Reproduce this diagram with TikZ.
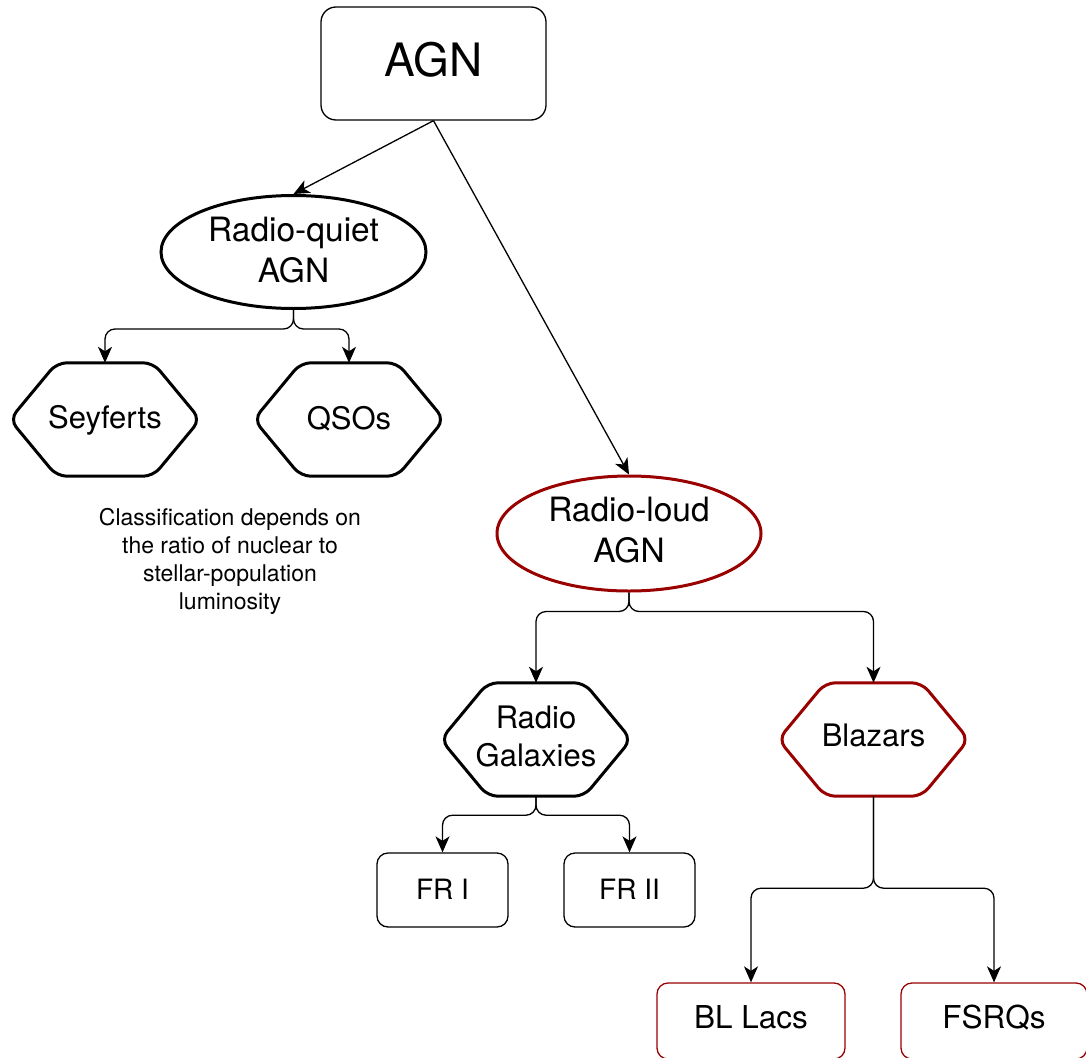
\documentclass[tikz,border=0pt]{standalone}
\usepackage{fontspec}
\setmainfont{TeX Gyre Heros}
\usetikzlibrary{shapes.geometric,arrows.meta}
\definecolor{dred}{RGB}{153,0,0}
\newcommand\hexdraw[2]{%
  \draw[#2, line width=3pt, rounded corners=10pt]
    (#1.north) -- ([xshift=-47pt]#1.north east) -- (#1.east)
    -- ([xshift=-47pt]#1.south east) -- ([xshift=47pt]#1.south west)
    -- (#1.west) -- ([xshift=47pt]#1.north west) -- cycle;}
\tikzset{
  txt/.style={align=center, inner sep=0pt, text=black},
  thinbox/.style={draw, line width=1.3pt, rounded corners=11pt, inner sep=0pt},
  ellnode/.style={ellipse, draw, line width=3pt, inner sep=0pt, minimum width=265pt, minimum height=113pt},
  hexnode/.style={inner sep=0pt, minimum width=190pt, minimum height=113pt},
  elltxt/.style={txt, font=\fontsize{33.5}{40.5}\selectfont},
  hextxt/.style={txt, font=\fontsize{31}{37.5}\selectfont},
  conn/.style={line width=1.3pt, rounded corners=10pt, -{Stealth[length=16pt,width=14pt,inset=4.5pt]}}
}
\begin{document}
\begin{tikzpicture}[x=1pt,y=-1pt]
\useasboundingbox (0,0) rectangle (1086,1057);
% top
\node[thinbox, rounded corners=15pt, minimum width=225pt, minimum height=113pt,
  label={[txt, font=\fontsize{46}{55}\selectfont, yshift=3.5pt]center:AGN}] (agn) at (433.5,63.5) {};
% ellipses
\node[ellnode, label={[elltxt, yshift=2pt]center:{Radio-quiet\\AGN}}] (rq) at (293.5,252) {};
\node[ellnode, draw=dred, minimum width=264pt, minimum height=115pt,
  label={[elltxt, yshift=3.5pt]center:{Radio-loud\\AGN}}] (rl) at (629,533.5) {};
% hexagons
\node[hexnode, label={[hextxt, yshift=-0.5pt]center:Seyferts}] (sey) at (105,419.5) {};
\node[hexnode, label={[hextxt, yshift=1pt]center:QSOs}] (qso) at (349,419.5) {};
\node[hexnode, label={[hextxt, yshift=3pt]center:{Radio\\Galaxies}}] (rg) at (536,739.5) {};
\node[hexnode, label={[hextxt, yshift=4pt]center:Blazars}] (bla) at (873.5,739.5) {};
\hexdraw{sey}{black}
\hexdraw{qso}{black}
\hexdraw{rg}{black}
\hexdraw{bla}{dred}
% boxes
\node[thinbox, minimum width=131pt, minimum height=74pt,
  label={[txt, font=\fontsize{28}{34}\selectfont, yshift=1pt]center:FR I}] (fr1) at (442.5,890) {};
\node[thinbox, minimum width=131pt, minimum height=74pt,
  label={[txt, font=\fontsize{28}{34}\selectfont, yshift=1pt]center:FR II}] (fr2) at (629.5,890) {};
\node[thinbox, draw=dred, minimum width=188pt, minimum height=76pt,
  label={[txt, font=\fontsize{31.5}{38}\selectfont, yshift=4pt]center:BL Lacs}] (bll) at (751,1021) {};
\node[thinbox, draw=dred, minimum width=186pt, minimum height=76pt,
  label={[txt, font=\fontsize{31.5}{38}\selectfont, yshift=3pt]center:FSRQs}] (fsrq) at (994,1021) {};
% note
\node[txt, font=\fontsize{23}{28}\selectfont] (note) at (230,561) {Classification depends on\\the ratio of nuclear to\\stellar-population\\luminosity};
% connectors
\draw[conn] (agn.south) -- (rq.north);
\draw[conn] (agn.south) -- (rl.north);
\draw[conn] (rq.south) -- ++(0,19) -| (sey.north);
\draw[conn] (rq.south) -- ++(0,19) -| (qso.north);
\draw[conn] (rl.south) -- ++(0,19) -| (rg.north);
\draw[conn] (rl.south) -- ++(0,19) -| (bla.north);
\draw[conn] (rg.south) -- ++(0,19) -| (fr1.north);
\draw[conn] (rg.south) -- ++(0,19) -| (fr2.north);
\draw[conn] (bla.south) -- ++(0,92) -| (bll.north);
\draw[conn] (bla.south) -- ++(0,92) -| (fsrq.north);
\end{tikzpicture}
\end{document}
